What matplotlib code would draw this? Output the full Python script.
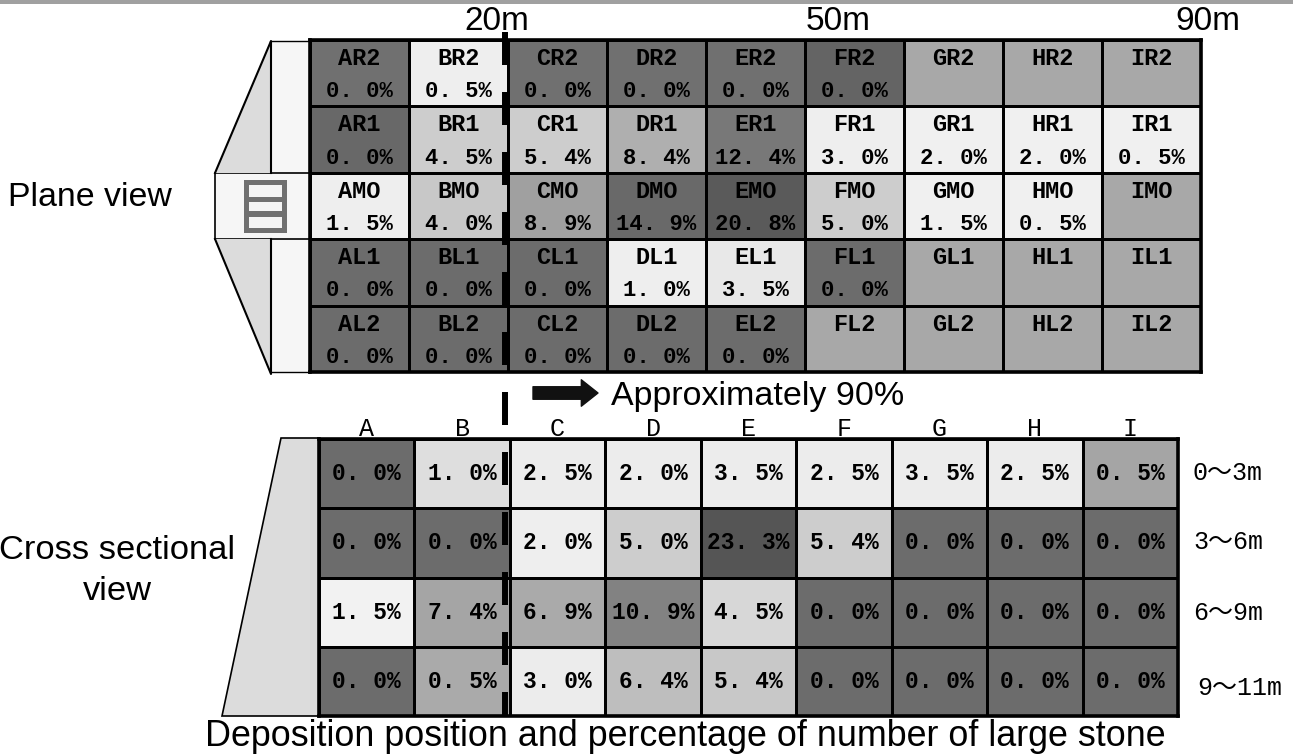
import numpy as np
import matplotlib
matplotlib.use("Agg")
import matplotlib.pyplot as plt
from matplotlib.patches import Polygon, Rectangle

# ---------- data ----------
columns = ["A", "B", "C", "D", "E", "F", "G", "H", "I"]
plane_rows = ["R2", "R1", "MO", "L1", "L2"]
plane_values = [
    [0.0, 0.5, 0.0, 0.0, 0.0, 0.0, None, None, None],
    [0.0, 4.5, 5.4, 8.4, 12.4, 3.0, 2.0, 2.0, 0.5],
    [1.5, 4.0, 8.9, 14.9, 20.8, 5.0, 1.5, 0.5, None],
    [0.0, 0.0, 0.0, 1.0, 3.5, 0.0, None, None, None],
    [0.0, 0.0, 0.0, 0.0, 0.0, None, None, None, None],
]
plane_shades = [
    [112, 238, 112, 112, 112, 100, 168, 168, 168],
    [104, 205, 205, 175, 120, 238, 240, 240, 240],
    [238, 200, 160, 105, 90, 205, 240, 240, 168],
    [108, 108, 108, 238, 232, 108, 168, 168, 168],
    [108, 108, 108, 108, 108, 168, 168, 168, 168],
]
depth_labels = ["0～3m", "3～6m", "6～9m", "9～11m"]
section_values = [
    [0.0, 1.0, 2.5, 2.0, 3.5, 2.5, 3.5, 2.5, 0.5],
    [0.0, 0.0, 2.0, 5.0, 23.3, 5.4, 0.0, 0.0, 0.0],
    [1.5, 7.4, 6.9, 10.9, 4.5, 0.0, 0.0, 0.0, 0.0],
    [0.0, 0.5, 3.0, 6.4, 5.4, 0.0, 0.0, 0.0, 0.0],
]
section_shades = [
    [108, 222, 236, 236, 236, 236, 236, 236, 165],
    [108, 108, 238, 205, 85, 205, 108, 108, 108],
    [242, 165, 170, 130, 215, 108, 108, 108, 108],
    [108, 170, 236, 190, 200, 108, 108, 108, 108],
]
distance_labels = ["20m", "50m", "90m"]

W, H = 1293, 756
MONO = ["Liberation Mono", "Noto Sans CJK JP"]
SANS = "Liberation Sans"

fig = plt.figure(figsize=(W / 100, H / 100), dpi=100, facecolor="white")


def axes_px(x0, y0, x1, y1, z=1):
    ax = fig.add_axes([x0 / W, 1 - y1 / H, (x1 - x0) / W, (y1 - y0) / H], zorder=z)
    return ax


def fmt(v):
    return f"{v:.1f}%".replace(".", ". ")


def heat(ax, shades):
    s = np.array(shades, float)
    ax.pcolormesh(s, cmap="gray", vmin=0, vmax=255, edgecolors="black", linewidth=1.8)
    ax.set_xlim(0, s.shape[1])
    ax.set_ylim(s.shape[0], 0)
    ax.set_xticks([])
    ax.set_yticks([])
    for sp in ax.spines.values():
        sp.set_linewidth(2.6)
        sp.set_color("black")
        sp.set_zorder(5)


# ---------- background overlay (pixel coordinates) ----------
bg = axes_px(0, 0, W, H, z=0)
bg.set_xlim(0, W)
bg.set_ylim(H, 0)
bg.axis("off")
bg.add_patch(Rectangle((0, 0), W, 4, color="#a0a0a0", lw=0))
bg.add_patch(Rectangle((270, 41), 40, 331, fc="#f6f6f6", ec="black", lw=1.0))
bg.add_patch(Rectangle((215, 173), 95, 66, fc="#f6f6f6", ec="black", lw=1.2))
bg.add_patch(Polygon([(271, 41), (215, 173), (271, 173)], fc="#dcdcdc", ec="none"))
bg.add_patch(Polygon([(271, 372), (215, 239), (271, 239)], fc="#dcdcdc", ec="none"))
bg.plot([215, 271, 271], [173, 41, 173], color="black", lw=1.5)
bg.plot([215, 271, 271], [239, 374, 239], color="black", lw=1.5)
bg.add_patch(Rectangle((244, 180), 43, 53, fc="#707070", ec="none"))
for y0, y1 in [(185, 197), (202, 211), (217, 228)]:
    bg.add_patch(Rectangle((249, y0), 33, y1 - y0, fc="#f4f4f4", ec="none"))
bg.add_patch(Polygon([(222, 716), (281, 438), (319, 438), (319, 716)],
                     fc="#dcdcdc", ec="black", lw=1.2))

# ---------- plane view ----------
ax1 = axes_px(310, 40, 1201, 372)
heat(ax1, plane_shades)
for r, row in enumerate(plane_values):
    for c, v in enumerate(row):
        ax1.text(c + 0.5, r + 0.28, columns[c] + plane_rows[r], ha="center", va="center",
                 family=MONO, fontweight="bold", fontsize=17, color="black")
        if v is not None:
            ax1.text(c + 0.5, r + 0.78, fmt(v), ha="center", va="center",
                     family=MONO, fontweight="bold", fontsize=16, color="black")

# ---------- cross section ----------
ax2 = axes_px(319, 439, 1178, 716)
heat(ax2, section_shades)
for r, row in enumerate(section_values):
    for c, v in enumerate(row):
        ax2.text(c + 0.5, r + 0.5, fmt(v), ha="center", va="center",
                 family=MONO, fontweight="bold", fontsize=16.5, color="black")

# ---------- foreground texts ----------
fg = axes_px(0, 0, W, H, z=3)
fg.set_xlim(0, W)
fg.set_ylim(H, 0)
fg.axis("off")
fg.plot([505, 505], [32, 716], color="black", lw=4.3,
        linestyle=(0, (33 / 4.3 * 0.72, 27 / 4.3 * 0.72)), dash_capstyle="butt")
for x, t in zip([497, 838, 1208], distance_labels):
    fg.text(x, 21, t, ha="center", va="center", family=SANS, fontsize=24, color="black")
fg.text(90, 197, "Plane view", ha="center", va="center", family=SANS, fontsize=24.4)
fg.text(117, 571, "Cross sectional\nview", ha="center", va="center", family=SANS,
        fontsize=24.8, linespacing=1.38)
fg.text(758, 396, "Approximately 90%", ha="center", va="center", family=SANS, fontsize=24.5)
fg.text(685, 736, "Deposition position and percentage of number of large stone",
        ha="center", va="center", family=SANS, fontsize=25.8)
fg.annotate("", xy=(598, 393), xytext=(533, 393),
            arrowprops=dict(facecolor="#111111", edgecolor="#111111",
                            width=9, headwidth=19, headlength=12))
for c, name in enumerate(columns):
    fg.text(319 + (c + 0.5) * 859 / 9, 429, name, ha="center", va="center",
            family=MONO, fontsize=18)
for y, x, t in zip([473, 542, 613, 688], [1228, 1228, 1228, 1240], depth_labels):
    fg.text(x, y, t, ha="center", va="center", family=MONO, fontsize=18)

fig.savefig("out.png", dpi=100)
